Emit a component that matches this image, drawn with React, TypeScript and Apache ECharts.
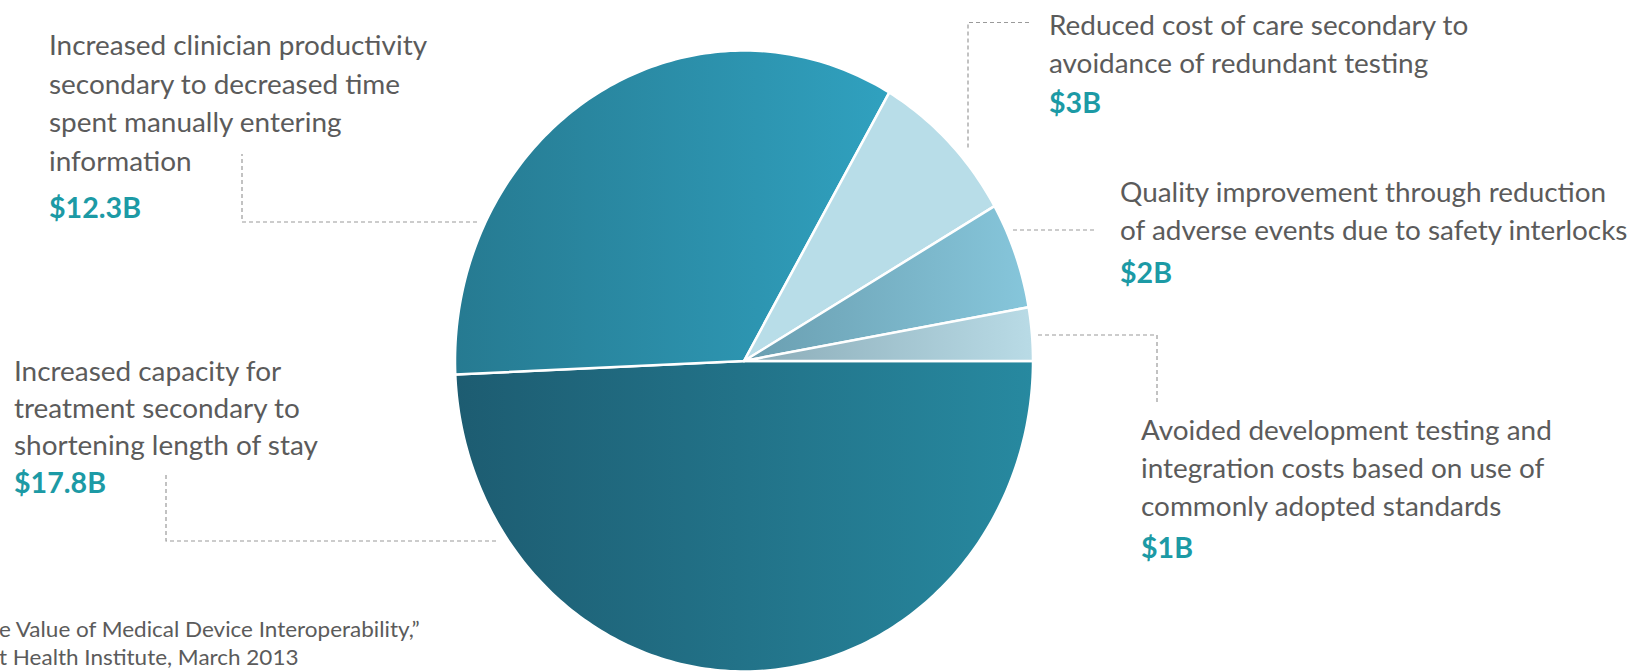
import React, { useEffect, useRef } from "react";
import * as echarts from "echarts";

// ---- data ----
const VALUES = [17.8, 12.3, 3, 2, 1];
const LABEL_LINES = [
  ["Increased capacity for", "treatment secondary to", "shortening length of stay"],
  ["Increased clinician productivity", "secondary to decreased time", "spent manually entering", "information"],
  ["Reduced cost of care secondary to", "avoidance of redundant testing"],
  ["Quality improvement through reduction", "of adverse events due to safety interlocks"],
  ["Avoided development testing and", "integration costs based on use of", "commonly adopted standards"],
];
const SOURCE_LINES = ["e Value of Medical Device Interoperability,\u201d", "t Health Institute, March 2013"];

// ---- styles / layout ----
const SLICE_COLORS = [
  ["#1d5c71", "#2789a0"],
  ["#267a91", "#30a1bf"],
  ["#b8dde8", "#b8dde8"],
  ["#6a9eb0", "#86c6db"],
  ["#8aabb7", "#b9dbe6"],
];
const CX = 744;
const CY = 361;
const RX = 289;
const RY = 310.5;
const LABEL_POS = [
  { x: 14, base: 380.7, lh: 37.2, valueBase: 493 },
  { x: 49, base: 55, lh: 38.8, valueBase: 218 },
  { x: 1049, base: 35, lh: 38.3, valueBase: 113 },
  { x: 1120, base: 201.7, lh: 38.3, valueBase: 283 },
  { x: 1141, base: 440, lh: 38.3, valueBase: 558 },
];
const LEADERS = [
  [[496, 541], [166, 541], [166, 473]],
  [[477, 222], [242, 222], [242, 154]],
  [[1029, 22.5], [968, 22.5], [968, 150]],
  [[1013, 230], [1096, 230]],
  [[1038, 335], [1157, 335], [1157, 402]],
];
const FONT = "Lato";
const LABEL_SIZE = 27;
const VALUE_SIZE = 28;
const SOURCE_SIZE = 22;
const TEXT_COLOR = "#5b5b5b";
const VALUE_COLOR = "#1c9aa5";
const K = 0.387; // central-baseline offset (em)

function measure(text: string, font: string) {
  const c = document.createElement("canvas").getContext("2d")!;
  c.font = font;
  return c.measureText(text).width;
}

export default function App() {
  const ref = useRef<HTMLDivElement>(null);
  useEffect(() => {
    document.body.style.margin = "0";
    if (!ref.current) return;
    const chart = echarts.init(ref.current, undefined, { renderer: "svg" });

    const sx = 378 / measure("Increased clinician productivity", `${LABEL_SIZE}px ${FONT}`);
    const svx = 92 / measure("$12.3B", `bold ${VALUE_SIZE}px ${FONT}`);
    const ssx = 422 / measure(SOURCE_LINES[0], `${SOURCE_SIZE}px ${FONT}`);

    const total = VALUES.reduce((a, b) => a + b, 0);
    const cum: number[] = [];
    let acc = 0;
    VALUES.forEach((v) => {
      cum.push(acc);
      acc += v;
    });

    const graphics: any[] = [];
    LABEL_LINES.forEach((lines, i) => {
      const p = LABEL_POS[i];
      graphics.push({
        type: "text",
        x: p.x,
        y: p.base - K * LABEL_SIZE - p.lh / 2,
        scaleX: sx,
        style: {
          text: lines.join("\n"),
          fontFamily: FONT,
          fontSize: LABEL_SIZE,
          lineHeight: p.lh,
          fill: TEXT_COLOR,
          align: "left",
          verticalAlign: "top",
        },
      });
      graphics.push({
        type: "text",
        x: p.x,
        y: p.valueBase - K * VALUE_SIZE,
        scaleX: svx,
        style: {
          text: `$${VALUES[i]}B`,
          fontFamily: FONT,
          fontSize: VALUE_SIZE,
          fontWeight: "bold",
          fill: VALUE_COLOR,
          align: "left",
          verticalAlign: "middle",
        },
      });
      graphics.push({
        type: "polyline",
        shape: { points: LEADERS[i] },
        style: { stroke: "#9a9a9a", lineWidth: 1.2, lineDash: [4, 3], fill: null },
      });
    });
    graphics.push({
      type: "text",
      x: -1,
      y: 637 - K * SOURCE_SIZE - 14,
      scaleX: ssx,
      style: {
        text: SOURCE_LINES.join("\n"),
        fontFamily: FONT,
        fontSize: SOURCE_SIZE,
        lineHeight: 28,
        fill: TEXT_COLOR,
        align: "left",
        verticalAlign: "top",
      },
    });

    chart.setOption({
      animation: false,
      backgroundColor: "#ffffff",
      series: [
        {
          type: "custom",
          coordinateSystem: "none",
          data: VALUES.map((v) => [v]),
          renderItem: (params: any, api: any) => {
            const i = params.dataIndex;
            const v = api.value(0);
            const a0 = (cum[i] / total) * Math.PI * 2;
            const a1 = ((cum[i] + v) / total) * Math.PI * 2;
            const n = Math.max(6, Math.ceil(((a1 - a0) * 180) / Math.PI));
            const pts: number[][] = [[CX, CY]];
            for (let k = 0; k <= n; k++) {
              const t = a0 + ((a1 - a0) * k) / n;
              pts.push([CX + RX * Math.cos(t), CY + RY * Math.sin(t)]);
            }
            const c = SLICE_COLORS[i];
            return {
              type: "polygon",
              shape: { points: pts },
              style: {
                fill: new echarts.graphic.LinearGradient(0, 0, 1, 0, [
                  { offset: 0, color: c[0] },
                  { offset: 1, color: c[1] },
                ]),
                stroke: "#ffffff",
                lineWidth: 2.5,
                lineJoin: "round",
              },
            };
          },
        },
      ],
      graphic: graphics,
    });
    return () => chart.dispose();
  }, []);
  return <div ref={ref} style={{ width: 1637, height: 672, background: "#fff" }} />;
}
